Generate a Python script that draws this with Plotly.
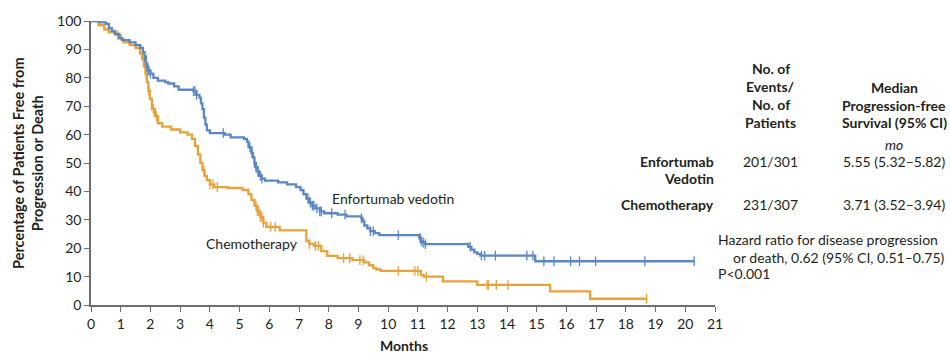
import numpy as np
import plotly.graph_objects as go

# ---------------- data ----------------
x_ticks = list(range(0, 22))
y_ticks = list(range(0, 101, 10))

ev_time = [0, 0.3, 0.5, 0.6, 0.7, 0.8, 0.95, 1.05, 1.3, 1.5, 1.66, 1.75, 1.8, 1.85, 1.9, 2.0,
           2.1, 2.25, 2.5, 2.6, 2.8, 2.95, 3.45, 3.55, 3.65, 3.7, 3.75, 3.8, 3.85, 3.9, 4.0,
           4.5, 4.7, 5.15, 5.25, 5.3, 5.4, 5.45, 5.5, 5.55, 5.6, 5.65, 5.75, 5.85, 6.3, 6.6,
           6.9, 7.05, 7.15, 7.25, 7.35, 7.45, 7.55, 7.7, 7.85, 8.3, 8.6, 9.1, 9.15, 9.2, 9.3,
           9.4, 9.55, 9.7, 11.05, 11.1, 11.15, 11.25, 12.7, 12.8, 12.9, 13.0, 13.1, 14.95, 20.3]
ev_surv = [100, 99.5, 99, 97.5, 96.5, 95.5, 94, 93.3, 92.5, 91.5, 90.5, 89, 87.5, 85, 82.5, 81.5,
           80, 79, 78.5, 78, 77, 75.8, 75.3, 74, 73, 71, 69, 66, 63.5, 61.5, 60.5,
           60, 59, 58.5, 57.5, 55.5, 53.5, 52, 50, 48.5, 47, 45.5, 44.5, 43.8, 43.2, 42.5,
           41.5, 40.5, 39, 37.5, 36, 35, 34, 33, 32.3, 31.8, 31.2, 30.5, 29.5, 28, 27,
           26, 25.3, 24.6, 23.5, 22.5, 22, 21.4, 20.5, 19.5, 18.5, 18, 17.4, 15.4, 15.4]
ev_censor = [1.8, 1.85, 1.92, 1.95, 2.0, 3.45, 3.5, 3.55, 4.45, 5.35, 5.42, 5.5, 5.55, 5.62,
             5.7, 5.75, 7.3, 7.38, 7.45, 7.5, 7.6, 7.7, 7.75, 8.1, 8.55, 9.1, 9.4, 9.5, 10.34,
             11.08, 11.12, 11.18, 11.25, 12.76, 13.14, 13.25, 13.61, 14.67, 14.87, 15.24,
             15.58, 16.14, 16.44, 16.98, 18.64, 20.3]

ch_time = [0, 0.25, 0.45, 0.6, 0.85, 1.0, 1.1, 1.3, 1.5, 1.65, 1.72, 1.78, 1.83, 1.88, 1.93,
           1.98, 2.05, 2.15, 2.25, 2.4, 2.7, 3.0, 3.25, 3.4, 3.5, 3.6, 3.68, 3.75, 3.82, 3.9,
           4.0, 4.15, 4.6, 5.1, 5.3, 5.4, 5.5, 5.6, 5.7, 5.8, 5.9, 6.35, 7.25, 7.35, 7.5,
           7.75, 7.95, 8.3, 8.8, 9.2, 9.35, 9.5, 9.6, 9.75, 11.1, 11.2, 11.85, 13.0, 15.45,
           16.8, 18.7]
ch_surv = [100, 98.5, 97, 96, 95, 93.5, 92.5, 91.5, 90.5, 88.5, 86.5, 84, 81.5, 78.5, 75.5,
           72.5, 69, 66.5, 64, 62.8, 61.8, 60.8, 60, 58.5, 56, 53, 50, 47.5, 45.5, 44,
           42.5, 41.5, 41.2, 40.5, 39, 37, 35, 33, 31, 29, 27.5, 26.3, 22.5, 21.5, 20.8,
           19, 17.3, 16.5, 15.8, 15, 14, 13, 12.5, 12, 10.5, 10, 8.3, 7.1, 4.8,
           2.2, 2.2]
ch_censor = [0.9, 1.85, 1.95, 2.1, 2.2, 3.8, 4.0, 4.1, 4.25, 5.55, 5.6, 5.65, 5.7, 5.75, 5.8,
             6.05, 6.2, 7.35, 7.55, 7.65, 8.5, 8.71, 9.05, 9.16, 10.34, 10.9, 11.0, 11.29,
             13.33, 13.37, 13.64, 14.03, 18.7]

assert len(ev_time) == len(ev_surv)
assert len(ch_time) == len(ch_surv)

BLUE = "#5b87c5"
ORANGE = "#e9a139"
TXT = "#231f20"
AX = "#6d6e71"
FONT = "Lato"
FS = 14


def step_at(times, surv, t):
    idx = np.searchsorted(np.array(times), np.array(t), side="right") - 1
    return list(np.array(surv)[idx])


fig = go.Figure()
for times, surv, cens, col in [(ch_time, ch_surv, ch_censor, ORANGE),
                               (ev_time, ev_surv, ev_censor, BLUE)]:
    fig.add_trace(go.Scatter(x=times, y=surv, mode="lines", line=dict(color=col, width=2.3, shape="hv"),
                             showlegend=False, hoverinfo="skip", cliponaxis=False))
    fig.add_trace(go.Scatter(x=cens, y=step_at(times, surv, cens), mode="markers",
                             marker=dict(symbol="line-ns-open", size=7, color=col,
                                         line=dict(color=col, width=1.3)),
                             showlegend=False, hoverinfo="skip", cliponaxis=False))

L, R, T, B = 91, 715, 15, 305


def px(xp):
    return (xp - L) / (R - L)


def py(yp):
    return (B - yp) / (B - T)


ann = []


def add(text, x, y, xanchor="center", bold=False, italic=False, size=FS):
    if bold:
        text = "<b>" + text + "</b>"
    if italic:
        text = "<i>" + text + "</i>"
    ann.append(dict(text=text, x=px(x), y=py(y), xref="paper", yref="paper", showarrow=False,
                    xanchor=xanchor, yanchor="middle", align="center" if xanchor == "center" else xanchor,
                    font=dict(family=FONT, size=size, color=TXT)))


# table header
for i, s in enumerate(["No. of", "Events/", "No. of", "Patients"]):
    add(s, 771, 64 + i * 18.3, bold=True)
for i, s in enumerate(["Median", "Progression-free", "Survival (95% CI)"]):
    add(s, 894, 82.5 + i * 18.3, bold=True)
add("mo", 894, 141.5, italic=True)
add("Enfortumab", 716, 158, xanchor="right", bold=True)
add("Vedotin", 716, 176, xanchor="right", bold=True)
add("Chemotherapy", 716, 202, xanchor="right", bold=True)
add("201/301", 771, 158)
add("231/307", 771, 202)
add("5.55 (5.32–5.82)", 894, 158)
add("3.71 (3.52–3.94)", 894, 202)
add("Hazard ratio for disease progression", 716, 238, xanchor="left")
add("or death, 0.62 (95% CI, 0.51–0.75)", 731, 256, xanchor="left")
add("P<0.001", 716, 273, xanchor="left")
# curve labels
add("Enfortumab vedotin", 330, 196, xanchor="left")
add("Chemotherapy", 204, 242, xanchor="left")
# axis titles
add("Months", 404, 346, bold=True)
ann.append(dict(text="<b>Percentage of Patients Free from<br>Progression or Death</b>", x=px(28), y=py(160),
                xref="paper", yref="paper", showarrow=False, textangle=-90, xanchor="center",
                yanchor="middle", font=dict(family=FONT, size=14.5, color=TXT)))

fig.update_layout(
    width=950, height=354,
    margin=dict(l=L, r=950 - R, t=T, b=354 - B),
    paper_bgcolor="white", plot_bgcolor="white",
    annotations=ann,
    font=dict(family=FONT, size=FS, color=TXT),
)
fig.update_xaxes(range=[0, 21], tickvals=x_ticks, ticktext=[str(v) for v in x_ticks],
                 showgrid=False, zeroline=False, showline=True, linecolor=AX, linewidth=1.5,
                 ticks="outside", ticklen=5, tickcolor=AX, tickwidth=1.2,
                 tickfont=dict(family=FONT, size=FS, color=TXT))
fig.update_yaxes(range=[0, 100], tickvals=y_ticks, ticktext=[str(v) for v in y_ticks],
                 showgrid=False, zeroline=False, showline=True, linecolor=AX, linewidth=1.5,
                 ticks="outside", ticklen=5, tickcolor=AX, tickwidth=1.2,
                 tickfont=dict(family=FONT, size=FS, color=TXT))

fig.write_html("out.html", config={"displayModeBar": False},
               post_script="document.body.style.margin='0px';document.body.style.overflow='hidden';")
